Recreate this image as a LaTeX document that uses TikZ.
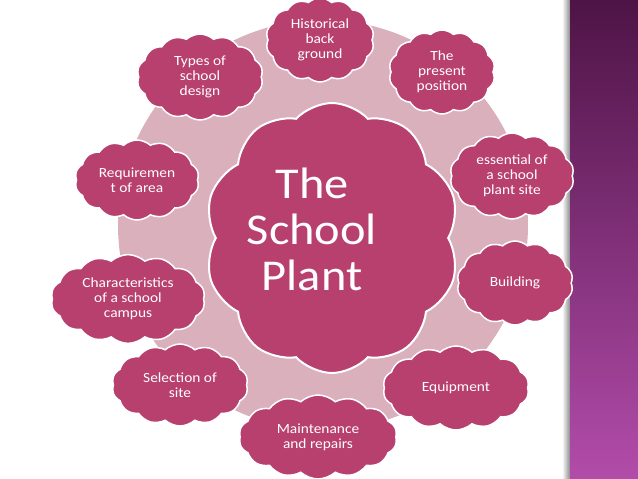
\documentclass[tikz,border=0pt]{standalone}
\usepackage{fontspec}
\setmainfont{Carlito}[FakeStretch=1.1]
\usetikzlibrary{shapes.symbols}
\definecolor{cloudred}{HTML}{B8406E}
\definecolor{ringpink}{HTML}{D9B0BC}
\definecolor{bandtop}{HTML}{4E1446}
\definecolor{bandbot}{HTML}{B24CAA}
\tikzset{
  topic/.style={cloud, cloud puffs=14, cloud puff arc=85, fill=cloudred, draw=white,
    line width=1.5pt, text=white, align=center, inner xsep=-16pt, inner ysep=-8pt,
    font=\fontsize{14}{15}\selectfont},
  hub/.style={topic, cloud puffs=10, cloud puff arc=95, line width=2pt}
}
\begin{document}
\begin{tikzpicture}[x=1pt,y=-1pt]
  \useasboundingbox (0,0) rectangle (638,479);
  \fill[white] (0,0) rectangle (638,479);
  % side band
  \fill[left color=white, right color=black!45] (562,0) rectangle (570,479);
  \fill[top color=bandtop, bottom color=bandbot] (570,0) rectangle (638,479);
  % ring behind the clouds
  \fill[ringpink] (323,225) circle (205pt);
  \node[hub, minimum width=255pt, minimum height=270pt] (plant) at (332,238) {};
  \node[text=white, align=center, font=\fontsize{44}{46}\selectfont] (title) at (312,229) {The\\School\\Plant};
  \node[topic, minimum width=108pt, minimum height=84pt] (history) at (320,40) {Historical\\back\\ground};
  \node[topic, minimum width=106pt, minimum height=84pt] (present) at (442,72) {The\\present\\position};
  \node[topic, minimum width=126pt, minimum height=86pt] (design) at (200,77) {Types of\\school\\design};
  \node[topic, minimum width=124pt, minimum height=80pt] (area) at (137,180) {Requiremen\\t of area};
  \node[topic, minimum width=124pt, minimum height=86pt] (essential) at (512,176) {essential of\\a school\\plant site};
  \node[topic, minimum width=116pt, minimum height=84pt] (building) at (515,283) {Building};
  \node[topic, minimum width=154pt, minimum height=84pt] (campus) at (128,299) {Characteristics\\of a school\\campus};
  \node[topic, minimum width=136pt, minimum height=82pt] (site) at (180,385) {Selection of\\site};
  \node[topic, minimum width=146pt, minimum height=84pt] (equipment) at (456,388) {Equipment};
  \node[topic, minimum width=158pt, minimum height=84pt] (repairs) at (318,437) {Maintenance\\and repairs};
\end{tikzpicture}
\end{document}
